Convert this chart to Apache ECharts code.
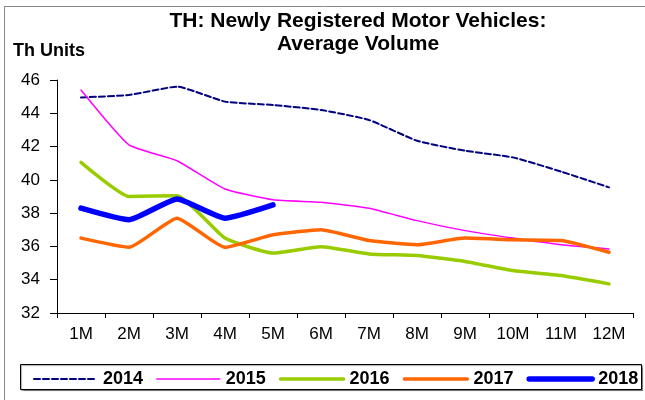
<!DOCTYPE html>
<html>
<head>
<meta charset="utf-8">
<script src="https://cdn.jsdelivr.net/npm/echarts@6/dist/echarts.min.js"></script>
<style>
  html, body { margin: 0; padding: 0; background: #fff; }
  #chart { width: 645px; height: 400px; }
</style>
</head>
<body>
<div id="chart"></div>
<script>
// data
const months = ["1M", "2M", "3M", "4M", "5M", "6M", "7M", "8M", "9M", "10M", "11M", "12M"];
const y2014 = [44.95, 45.1, 45.6, 44.7, 44.5, 44.2, 43.6, 42.35, 41.75, 41.35, 40.5, 39.55];
const y2015 = [45.4, 42.1, 41.15, 39.45, 38.8, 38.65, 38.3, 37.55, 36.95, 36.5, 36.1, 35.85];
const y2016 = [41.05, 39.0, 39.05, 36.5, 35.6, 35.98, 35.55, 35.45, 35.1, 34.55, 34.25, 33.75];
const y2017 = [36.5, 35.95, 37.7, 35.95, 36.7, 37.0, 36.35, 36.1, 36.5, 36.4, 36.35, 35.65];
const y2018 = [38.3, 37.6, 38.85, 37.7, 38.5];
const yTicks = { min: 32, max: 46, step: 2 };

const font = "Liberation Sans";

// style per year: colour, width, dash
const styles = {
  "2014": { color: "#000080", width: 2, type: [6, 3] },
  "2015": { color: "#ff00ff", width: 1.5, type: "solid" },
  "2016": { color: "#99cc00", width: 3.5, type: "solid" },
  "2017": { color: "#ff6600", width: 3.5, type: "solid" },
  "2018": { color: "#0000ff", width: 5.5, type: "solid" },
};
const seriesData = { "2014": y2014, "2015": y2015, "2016": y2016, "2017": y2017, "2018": y2018 };

function makeSeries(name) {
  const s = styles[name];
  return {
    name: name,
    type: "line",
    data: seriesData[name],
    symbol: "none",
    smooth: 0.15,
    color: s.color,
    lineStyle: { color: s.color, width: s.width, type: s.type, cap: "round", join: "round" },
    emphasis: { disabled: true },
  };
}

const chart = echarts.init(document.getElementById("chart"), null, { renderer: "canvas" });
const option = {
  animation: false,
  backgroundColor: "#fff",
  textStyle: { fontFamily: font },
  title: [
    {
      text: "TH: Newly Registered Motor Vehicles:\nAverage Volume",
      left: 358,
      top: 10,
      textAlign: "center",
      padding: 0,
      textStyle: { fontFamily: font, fontSize: 21, fontWeight: "bold", color: "#000", lineHeight: 23 },
    },
    {
      text: "Th Units",
      left: 13,
      top: 42,
      padding: 0,
      textStyle: { fontFamily: font, fontSize: 18, fontWeight: "bold", color: "#000" },
    },
  ],
  // frame lines and legend box
  graphic: [
    { type: "line", shape: { x1: 4, y1: 6.5, x2: 645, y2: 6.5 }, style: { stroke: "#8a8a8a", lineWidth: 1 }, silent: true },
    { type: "line", shape: { x1: 4.5, y1: 6, x2: 4.5, y2: 400 }, style: { stroke: "#8a8a8a", lineWidth: 1 }, silent: true },
    {
      type: "rect",
      shape: { x: 20.5, y: 364.5, width: 621, height: 25 },
      style: { fill: "#fff", stroke: "#000", lineWidth: 1, shadowColor: "rgba(0,0,0,0.35)", shadowOffsetX: 1, shadowOffsetY: 1, shadowBlur: 1 },
      z: -1,
      silent: true,
    },
  ],
  legend: {
    left: 33,
    top: 370,
    padding: 0,
    itemWidth: 63,
    itemHeight: 14,
    itemGap: 13,
    itemStyle: { opacity: 0, borderWidth: 0 },
    textStyle: { fontFamily: font, fontSize: 18, fontWeight: "bold", color: "#000", padding: [0, 0, 0, 1] },
    data: Object.keys(styles).map((k) => ({
      name: k,
      itemStyle: { opacity: 0, color: "rgba(0,0,0,0)", borderWidth: 0 },
      lineStyle: { color: styles[k].color, width: styles[k].width, type: styles[k].type, cap: "round" },
    })),
  },
  grid: { left: 57, right: 12, top: 80, bottom: 87, containLabel: false },
  xAxis: {
    type: "category",
    data: months,
    boundaryGap: true,
    axisLine: { lineStyle: { color: "#000", width: 1 } },
    axisTick: { show: true, interval: 0, length: 5, lineStyle: { color: "#000" } },
    axisLabel: { interval: 0, margin: 13, fontFamily: font, fontSize: 17, color: "#000" },
    splitLine: { show: false },
  },
  yAxis: {
    type: "value",
    min: yTicks.min,
    max: yTicks.max,
    interval: yTicks.step,
    axisLine: { show: true, lineStyle: { color: "#000", width: 1 } },
    axisTick: { show: true, length: 7, lineStyle: { color: "#000" } },
    axisLabel: { margin: 17, fontFamily: font, fontSize: 17, color: "#000" },
    splitLine: { show: false },
  },
  series: Object.keys(styles).map(makeSeries),
};
chart.setOption(option);
</script>
</body>
</html>
